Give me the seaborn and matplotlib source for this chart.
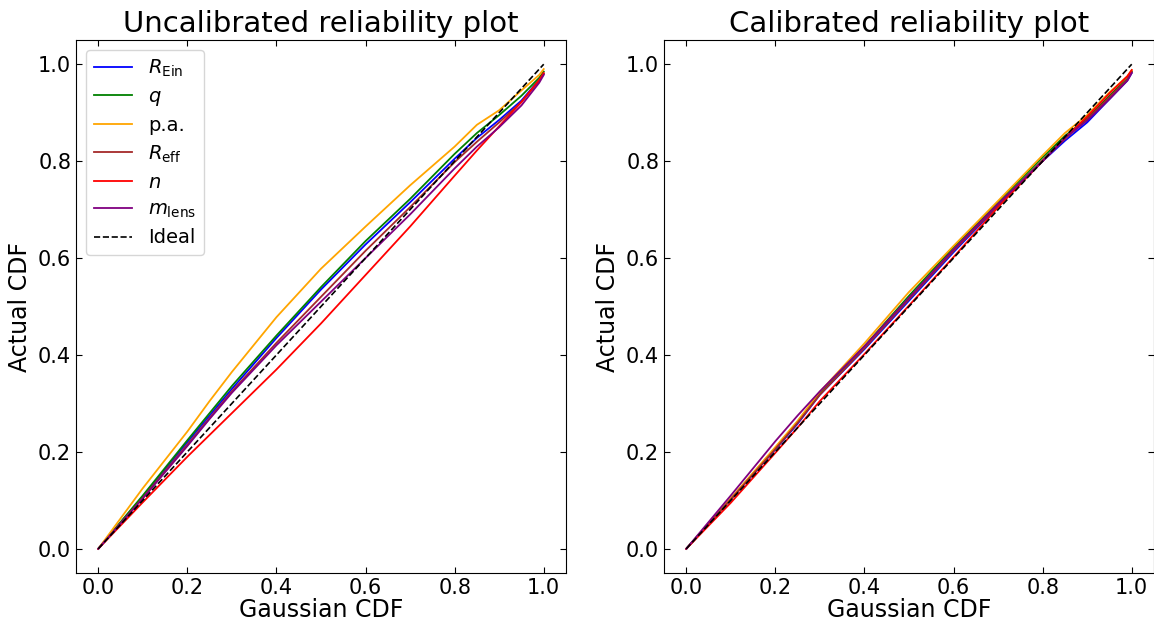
import numpy as np
import pandas as pd
import matplotlib
matplotlib.use("Agg")
import matplotlib.pyplot as plt
import seaborn as sns

# Gaussian CDF grid (x-axis)
gauss_cdf = [0.0, 0.1, 0.2, 0.25, 0.3, 0.4, 0.5, 0.6, 0.7, 0.8, 0.85, 0.9, 0.95, 0.99, 1.0]

labels = [r"$R_\mathrm{Ein}$", r"$q$", "p.a.", r"$R_\mathrm{eff}$", r"$n$", r"$m_\mathrm{lens}$"]
colors = ["blue", "green", "orange", "brown", "red", "purple"]

# Uncalibrated actual CDF values
uncal_R_ein = [0.0, 0.108, 0.220, 0.275, 0.330, 0.435, 0.535, 0.628, 0.715, 0.805, 0.848, 0.885, 0.925, 0.968, 0.980]
uncal_q     = [0.0, 0.110, 0.224, 0.280, 0.336, 0.440, 0.540, 0.635, 0.722, 0.815, 0.858, 0.895, 0.935, 0.972, 0.985]
uncal_pa    = [0.0, 0.125, 0.242, 0.305, 0.365, 0.478, 0.578, 0.665, 0.750, 0.830, 0.875, 0.905, 0.946, 0.978, 0.990]
uncal_R_eff = [0.0, 0.105, 0.215, 0.270, 0.325, 0.425, 0.520, 0.615, 0.705, 0.798, 0.840, 0.880, 0.922, 0.966, 0.980]
uncal_n     = [0.0, 0.096, 0.190, 0.235, 0.280, 0.370, 0.465, 0.565, 0.665, 0.770, 0.822, 0.872, 0.922, 0.968, 0.982]
uncal_m     = [0.0, 0.104, 0.212, 0.268, 0.322, 0.420, 0.510, 0.600, 0.690, 0.785, 0.830, 0.870, 0.915, 0.962, 0.978]

# Calibrated actual CDF values
cal_R_ein = [0.0, 0.102, 0.205, 0.258, 0.318, 0.412, 0.512, 0.612, 0.708, 0.800, 0.842, 0.880, 0.928, 0.966, 0.982]
cal_q     = [0.0, 0.103, 0.208, 0.262, 0.322, 0.418, 0.522, 0.622, 0.715, 0.808, 0.852, 0.888, 0.935, 0.970, 0.985]
cal_pa    = [0.0, 0.104, 0.210, 0.264, 0.324, 0.424, 0.530, 0.625, 0.718, 0.812, 0.858, 0.895, 0.942, 0.975, 0.988]
cal_R_eff = [0.0, 0.102, 0.206, 0.260, 0.318, 0.414, 0.515, 0.615, 0.710, 0.802, 0.846, 0.886, 0.932, 0.968, 0.984]
cal_n     = [0.0, 0.095, 0.198, 0.250, 0.305, 0.402, 0.502, 0.602, 0.705, 0.800, 0.848, 0.892, 0.940, 0.975, 0.988]
cal_m     = [0.0, 0.110, 0.222, 0.275, 0.325, 0.418, 0.518, 0.618, 0.712, 0.800, 0.848, 0.884, 0.928, 0.966, 0.982]

uncal = [uncal_R_ein, uncal_q, uncal_pa, uncal_R_eff, uncal_n, uncal_m]
cal = [cal_R_ein, cal_q, cal_pa, cal_R_eff, cal_n, cal_m]
ideal = [0.0, 1.0]

plt.rcParams.update({
    "font.family": "DejaVu Sans",
    "xtick.direction": "in",
    "ytick.direction": "in",
    "xtick.top": True,
    "ytick.right": True,
    "mathtext.fontset": "dejavusans",
})

fig = plt.figure(figsize=(11.54, 6.22), dpi=100)
ax1 = fig.add_axes([76/1154, 49/622, 490/1154, 533/622])
ax2 = fig.add_axes([664/1154, 49/622, 490/1154, 533/622])

for ax, data, title in [(ax1, uncal, "Uncalibrated reliability plot"),
                        (ax2, cal, "Calibrated reliability plot")]:
    for vals, lab, col in zip(data, labels, colors):
        sns.lineplot(x=gauss_cdf, y=vals, color=col, label=lab, ax=ax,
                     linewidth=1.3, sort=False, estimator=None)
    sns.lineplot(x=ideal, y=ideal, color="black", linestyle="--", label="Ideal",
                 ax=ax, linewidth=1.2)
    ax.set_title(title, fontsize=21)
    ax.set_xlabel("Gaussian CDF", fontsize=17, labelpad=0)
    ax.set_ylabel("Actual CDF", fontsize=17, labelpad=4)
    ax.tick_params(labelsize=15, length=4)
    ax.set_xticks([0.0, 0.2, 0.4, 0.6, 0.8, 1.0])
    ax.set_yticks([0.0, 0.2, 0.4, 0.6, 0.8, 1.0])

ax1.legend(loc="upper left", fontsize=14, labelspacing=0.42)
ax2.get_legend().remove()

fig.savefig("out.png", dpi=100)
